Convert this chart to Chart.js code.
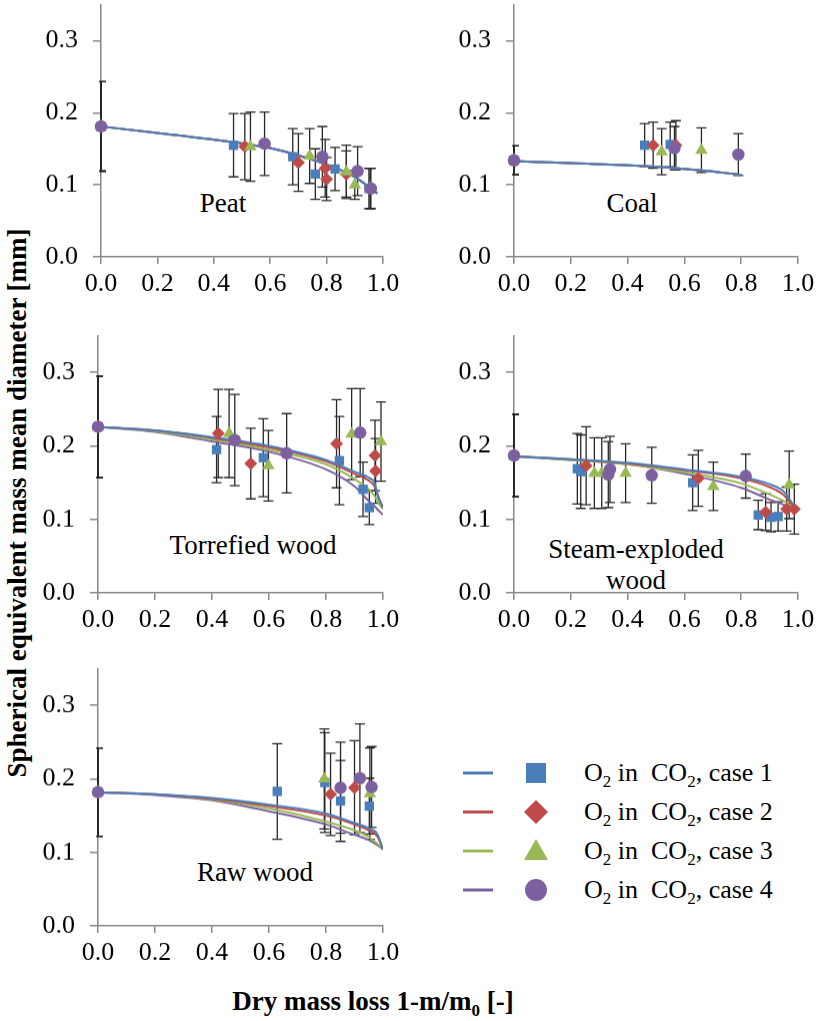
<!DOCTYPE html>
<html>
<head>
<meta charset="utf-8">
<script src="https://cdn.jsdelivr.net/npm/chart.js@4.4.0/dist/chart.umd.min.js"></script>
<style>
  body { margin: 0; width: 817px; height: 1021px; position: relative; background: #fff; overflow: hidden;
         font-family: "Liberation Serif", "Times New Roman", serif; color: #000; }
  canvas { position: absolute; }
  .lbl { position: absolute; font-size: 27px; line-height: 31px; text-align: center; white-space: nowrap;
         transform: translate(-50%, -50%); }
  .ytitle { position: absolute; left: 17px; top: 503px; font-size: 27px; font-weight: bold; white-space: nowrap;
            transform: translate(-50%, -50%) rotate(-90deg); }
  .xtitle { position: absolute; left: 373px; top: 1001px; font-size: 27px; font-weight: bold; white-space: nowrap;
            transform: translate(-50%, -50%); }
  .legtext { position: absolute; left: 584px; font-size: 26px; line-height: 30px; white-space: nowrap;
             transform: translateY(-50%); }
  .legtext sub, .xtitle sub { font-size: 17px; vertical-align: -6px; line-height: 0; }
</style>
</head>
<body>

<div class="lbl" style="left:223px; top:203px;">Peat</div>
<div class="lbl" style="left:632px; top:203px;">Coal</div>
<div class="lbl" style="left:253px; top:545px;">Torrefied wood</div>
<div class="lbl" style="left:636px; top:565px;">Steam-exploded<br>wood</div>
<div class="lbl" style="left:255px; top:872px;">Raw wood</div>

<div class="ytitle">Spherical equivalent mass mean diameter [mm]</div>
<div class="xtitle">Dry mass loss 1-m/m<sub>0</sub> [-]</div>

<svg id="legend" style="position:absolute; left:455px; top:750px;" width="110" height="165"></svg>
<div class="legtext" style="top:773px;">O<sub>2</sub> in&nbsp; CO<sub>2</sub>, case 1</div>
<div class="legtext" style="top:812px;">O<sub>2</sub> in&nbsp; CO<sub>2</sub>, case 2</div>
<div class="legtext" style="top:851px;">O<sub>2</sub> in&nbsp; CO<sub>2</sub>, case 3</div>
<div class="legtext" style="top:890px;">O<sub>2</sub> in&nbsp; CO<sub>2</sub>, case 4</div>

<script>
// Series styling: case 1..4
var caseColors = ['#4A7EBB', '#BE4B48', '#98B954', '#7D60A0'];
var caseMarkers = ['rect', 'rectRot', 'triangle', 'circle'];
var caseRadius = [6.6, 6.5, 7.2, 6.2];

// ---- Peat ----
var peatCurveX = [0, 0.2, 0.47, 0.6, 0.68, 0.78, 0.9, 0.98];
var peatCurveY = [
  [0.181, 0.172, 0.159, 0.151, 0.143, 0.131, 0.111, 0.088],
  [0.181, 0.172, 0.159, 0.151, 0.143, 0.131, 0.111, 0.088],
  [0.181, 0.172, 0.159, 0.151, 0.143, 0.131, 0.111, 0.088],
  [0.181, 0.172, 0.159, 0.151, 0.143, 0.131, 0.111, 0.088]
];
var peatPtsX = [
  [0, 0.47, 0.68, 0.76, 0.83, 0.95],
  [0, 0.51, 0.70, 0.795, 0.80, 0.87, 0.955],
  [0, 0.53, 0.74, 0.87, 0.90, 0.955],
  [0, 0.58, 0.785, 0.91, 0.957]
];
var peatPtsY = [
  [0.181, 0.155, 0.139, 0.115, 0.122, 0.095],
  [0.181, 0.153, 0.131, 0.123, 0.108, 0.115, 0.095],
  [0.181, 0.153, 0.140, 0.118, 0.100, 0.095],
  [0.181, 0.157, 0.139, 0.119, 0.095]
];
var peatErr = [
  [0.062, 0.044, 0.039, 0.035, 0.030, 0.028],
  [0.062, 0.046, 0.040, 0.040, 0.030, 0.032, 0.028],
  [0.062, 0.048, 0.038, 0.037, 0.020, 0.028],
  [0.062, 0.044, 0.042, 0.034, 0.028]
];

// ---- Coal ----
var coalCurveX = [0, 0.2, 0.46, 0.66, 0.8];
var coalCurveY = [
  [0.133, 0.130, 0.126, 0.120, 0.114],
  [0.133, 0.130, 0.126, 0.120, 0.114],
  [0.133, 0.130, 0.126, 0.120, 0.114],
  [0.133, 0.130, 0.126, 0.120, 0.114]
];
var coalPtsX = [
  [0, 0.46, 0.55],
  [0, 0.49, 0.57],
  [0, 0.52, 0.66],
  [0, 0.565, 0.79]
];
var coalPtsY = [
  [0.134, 0.155, 0.156],
  [0.134, 0.155, 0.155],
  [0.134, 0.146, 0.148],
  [0.134, 0.151, 0.142]
];
var coalErr = [
  [0.02, 0.030, 0.031],
  [0.02, 0.032, 0.034],
  [0.02, 0.032, 0.031],
  [0.02, 0.030, 0.029]
];

// ---- Torrefied wood ----
var torrCurveX = [0, 0.2, 0.4, 0.6, 0.8, 0.9, 0.95, 0.97, 0.985, 1.0];
var torrCurveY = [
  [0.226, 0.221, 0.212, 0.200, 0.181, 0.165, 0.157, 0.150, 0.128, 0.117],
  [0.226, 0.221, 0.211, 0.198, 0.179, 0.162, 0.153, 0.145, 0.130, 0.115],
  [0.226, 0.220, 0.209, 0.195, 0.175, 0.155, 0.141, 0.132, 0.122, 0.114],
  [0.226, 0.219, 0.206, 0.192, 0.168, 0.145, 0.125, 0.118, 0.112, 0.106]
];
var torrPtsX = [
  [0, 0.416, 0.58, 0.847, 0.93, 0.952],
  [0, 0.422, 0.536, 0.837, 0.972, 0.974],
  [0, 0.46, 0.598, 0.89, 0.993],
  [0, 0.48, 0.662, 0.92]
];
var torrPtsY = [
  [0.226, 0.195, 0.184, 0.180, 0.141, 0.116],
  [0.226, 0.217, 0.176, 0.203, 0.187, 0.166],
  [0.226, 0.217, 0.173, 0.216, 0.206],
  [0.226, 0.208, 0.190, 0.218]
];
var torrErr = [
  [0.069, 0.045, 0.053, 0.060, 0.037, 0.023],
  [0.069, 0.060, 0.048, 0.060, 0.048, 0.044],
  [0.069, 0.060, 0.048, 0.062, 0.054],
  [0.069, 0.062, 0.054, 0.060]
];

// ---- Steam-exploded wood ----
var steamCurveX = [0, 0.2, 0.4, 0.6, 0.8, 0.9, 0.95, 0.97, 0.99];
var steamCurveY = [
  [0.186, 0.182, 0.177, 0.168, 0.158, 0.148, 0.138, 0.128, 0.115],
  [0.186, 0.182, 0.176, 0.167, 0.156, 0.144, 0.133, 0.124, 0.115],
  [0.186, 0.181, 0.175, 0.164, 0.149, 0.134, 0.125, 0.120, 0.114],
  [0.186, 0.181, 0.175, 0.162, 0.143, 0.127, 0.120, 0.117, 0.113]
];
var steamPtsX = [
  [0, 0.223, 0.235, 0.629, 0.86, 0.905, 0.93],
  [0, 0.254, 0.649, 0.886, 0.96, 0.987],
  [0, 0.283, 0.309, 0.393, 0.702, 0.969],
  [0, 0.332, 0.338, 0.485, 0.816]
];
var steamPtsY = [
  [0.187, 0.169, 0.165, 0.150, 0.106, 0.103, 0.104],
  [0.187, 0.173, 0.156, 0.110, 0.114, 0.114],
  [0.187, 0.163, 0.163, 0.163, 0.145, 0.147],
  [0.187, 0.161, 0.168, 0.160, 0.159]
];
var steamErr = [
  [0.056, 0.048, 0.050, 0.038, 0.020, 0.020, 0.020],
  [0.056, 0.053, 0.038, 0.025, 0.030, 0.034],
  [0.056, 0.048, 0.048, 0.040, 0.033, 0.046],
  [0.056, 0.045, 0.045, 0.038, 0.030]
];

// ---- Raw wood ----
var rawCurveX = [0, 0.2, 0.4, 0.6, 0.8, 0.9, 0.95, 0.98, 1.0];
var rawCurveY = [
  [0.182, 0.179, 0.174, 0.165, 0.153, 0.140, 0.133, 0.125, 0.104],
  [0.182, 0.179, 0.173, 0.163, 0.150, 0.138, 0.130, 0.122, 0.104],
  [0.182, 0.179, 0.172, 0.160, 0.142, 0.130, 0.121, 0.112, 0.104],
  [0.182, 0.178, 0.171, 0.156, 0.138, 0.124, 0.117, 0.110, 0.104]
];
var rawPtsX = [
  [0, 0.629, 0.796, 0.851, 0.952],
  [0, 0.816, 0.90],
  [0, 0.794, 0.954],
  [0, 0.851, 0.919, 0.96]
];
var rawPtsY = [
  [0.182, 0.183, 0.195, 0.170, 0.163],
  [0.182, 0.179, 0.188],
  [0.182, 0.200, 0.180],
  [0.182, 0.188, 0.201, 0.189]
];
var rawErr = [
  [0.060, 0.065, 0.068, 0.055, 0.038],
  [0.060, 0.056, 0.064],
  [0.060, 0.068, 0.062],
  [0.060, 0.062, 0.074, 0.055]
];

var xTicks = [0, 0.2, 0.4, 0.6, 0.8, 1.0];
var yTicks = [0, 0.1, 0.2, 0.3];

Chart.defaults.font.family = '"Liberation Serif", "Times New Roman", serif';
Chart.defaults.font.size = 26;
Chart.defaults.color = '#000';

// Draws vertical error bars with caps, under the markers
var errorBarPlugin = {
  id: 'errorBars',
  beforeDatasetsDraw: function(chart) {
    var ctx = chart.ctx;
    var area = chart.chartArea;
    var xs = chart.scales.x;
    var ys = chart.scales.y;
    ctx.save();
    ctx.beginPath();
    ctx.rect(area.left - 1.5, area.top - 20, area.right - area.left + 40, area.bottom - area.top + 40);
    ctx.clip();
    ctx.strokeStyle = '#262626';
    ctx.lineWidth = 1.3;
    chart.data.datasets.forEach(function(ds) {
      if (!ds.errors) {
        return;
      }
      ds.data.forEach(function(p, i) {
        var e = ds.errors[i];
        var px = xs.getPixelForValue(p.x);
        var top = ys.getPixelForValue(p.y + e);
        var bot = ys.getPixelForValue(p.y - e);
        ctx.beginPath();
        ctx.moveTo(px, top);
        ctx.lineTo(px, bot);
        ctx.moveTo(px - 5, top);
        ctx.lineTo(px + 5, top);
        ctx.moveTo(px - 5, bot);
        ctx.lineTo(px + 5, bot);
        ctx.stroke();
      });
    });
    ctx.restore();
  }
};

function toPoints(xs, ys) {
  return xs.map(function(x, i) {
    return {x: x, y: ys[i]};
  });
}

function panelConfig(p) {
  var datasets = [];
  for (var c = 0; c < 4; c++) {
    datasets.push({
      type: 'line',
      data: toPoints(p.curveX, p.curveY[c]),
      borderColor: caseColors[c],
      borderWidth: 2,
      pointRadius: 0,
      cubicInterpolationMode: 'monotone',
      fill: false,
      order: 10 + c
    });
  }
  for (c = 0; c < 4; c++) {
    datasets.push({
      type: 'scatter',
      data: toPoints(p.ptsX[c], p.ptsY[c]),
      errors: p.err[c],
      pointStyle: caseMarkers[c],
      pointRadius: caseRadius[c],
      backgroundColor: caseColors[c],
      borderColor: caseColors[c],
      borderWidth: 0,
      clip: false,
      order: 4 - c
    });
  }
  var axisColor = '#868686';
  return {
    type: 'scatter',
    data: {datasets: datasets},
    plugins: [errorBarPlugin],
    options: {
      responsive: false,
      maintainAspectRatio: false,
      animation: false,
      events: [],
      layout: {padding: {left: 4, right: 22, top: 16, bottom: 4}},
      plugins: {legend: {display: false}, tooltip: {enabled: false}},
      scales: {
        x: {
          type: 'linear', min: 0, max: 1,
          afterBuildTicks: function(s) { s.ticks = xTicks.map(function(v) { return {value: v}; }); },
          afterFit: function(s) { s.height = 48; },
          border: {color: axisColor, width: 1.5},
          grid: {drawOnChartArea: false, drawTicks: true, tickLength: 7, color: axisColor, lineWidth: 1.5},
          ticks: {padding: 5, maxRotation: 0, callback: function(v) { return v.toFixed(1); }}
        },
        y: {
          type: 'linear', min: 0, max: 0.35,
          afterBuildTicks: function(s) { s.ticks = yTicks.map(function(v) { return {value: v}; }); },
          afterFit: function(s) { s.width = 72; },
          border: {color: axisColor, width: 1.5},
          grid: {drawOnChartArea: false, drawTicks: true, tickLength: 8, color: axisColor, lineWidth: 1.5},
          ticks: {padding: 15, callback: function(v) { return v.toFixed(1); }}
        }
      }
    }
  };
}

function createChart(p, w, h) {
  var cv = document.createElement('canvas');
  cv.width = w;
  cv.height = h;
  cv.style.width = w + 'px';
  cv.style.height = h + 'px';
  document.body.appendChild(cv);
  return new Chart(cv, panelConfig(p));
}

// Build a panel so that its plot area lands on the given box
function buildPanel(p) {
  var bw = p.box.right - p.box.left;
  var bh = p.box.bottom - p.box.top;
  var w = bw + 110;
  var h = bh + 80;
  var chart = createChart(p, w, h);
  var a = chart.chartArea;
  w += bw - (a.right - a.left);
  h += bh - (a.bottom - a.top);
  var old = chart.canvas;
  chart.destroy();
  old.parentNode.removeChild(old);
  chart = createChart(p, w, h);
  a = chart.chartArea;
  chart.canvas.style.left = (p.box.left - a.left) + 'px';
  chart.canvas.style.top = (p.box.top - a.top) + 'px';
  return chart;
}

buildPanel({box: {left: 101, right: 383, top: 5, bottom: 257},
  curveX: peatCurveX, curveY: peatCurveY, ptsX: peatPtsX, ptsY: peatPtsY, err: peatErr});
buildPanel({box: {left: 514, right: 798, top: 5, bottom: 257},
  curveX: coalCurveX, curveY: coalCurveY, ptsX: coalPtsX, ptsY: coalPtsY, err: coalErr});
buildPanel({box: {left: 98, right: 383, top: 336, bottom: 593},
  curveX: torrCurveX, curveY: torrCurveY, ptsX: torrPtsX, ptsY: torrPtsY, err: torrErr});
buildPanel({box: {left: 514, right: 798, top: 336, bottom: 593},
  curveX: steamCurveX, curveY: steamCurveY, ptsX: steamPtsX, ptsY: steamPtsY, err: steamErr});
buildPanel({box: {left: 98, right: 383, top: 669, bottom: 926},
  curveX: rawCurveX, curveY: rawCurveY, ptsX: rawPtsX, ptsY: rawPtsY, err: rawErr});

// Legend swatches (line + marker) drawn as SVG
(function() {
  var svg = document.getElementById('legend');
  var rows = [23, 62, 101, 140];
  var html = '';
  rows.forEach(function(y, c) {
    html += '<line x1="8" x2="38" y1="' + y + '" y2="' + y + '" stroke="' + caseColors[c] + '" stroke-width="3"/>';
    var mx = 81;
    if (c === 0) {
      html += '<rect x="' + (mx - 10) + '" y="' + (y - 10) + '" width="20" height="20" fill="' + caseColors[c] + '"/>';
    } else if (c === 1) {
      html += '<polygon points="' + mx + ',' + (y - 12) + ' ' + (mx + 12) + ',' + y + ' ' + mx + ',' + (y + 12) + ' ' + (mx - 12) + ',' + y + '" fill="' + caseColors[c] + '"/>';
    } else if (c === 2) {
      html += '<polygon points="' + mx + ',' + (y - 12) + ' ' + (mx + 12) + ',' + (y + 9) + ' ' + (mx - 12) + ',' + (y + 9) + '" fill="' + caseColors[c] + '"/>';
    } else {
      html += '<circle cx="' + mx + '" cy="' + y + '" r="11" fill="' + caseColors[c] + '"/>';
    }
  });
  svg.innerHTML = html;
})();
</script>
</body>
</html>
